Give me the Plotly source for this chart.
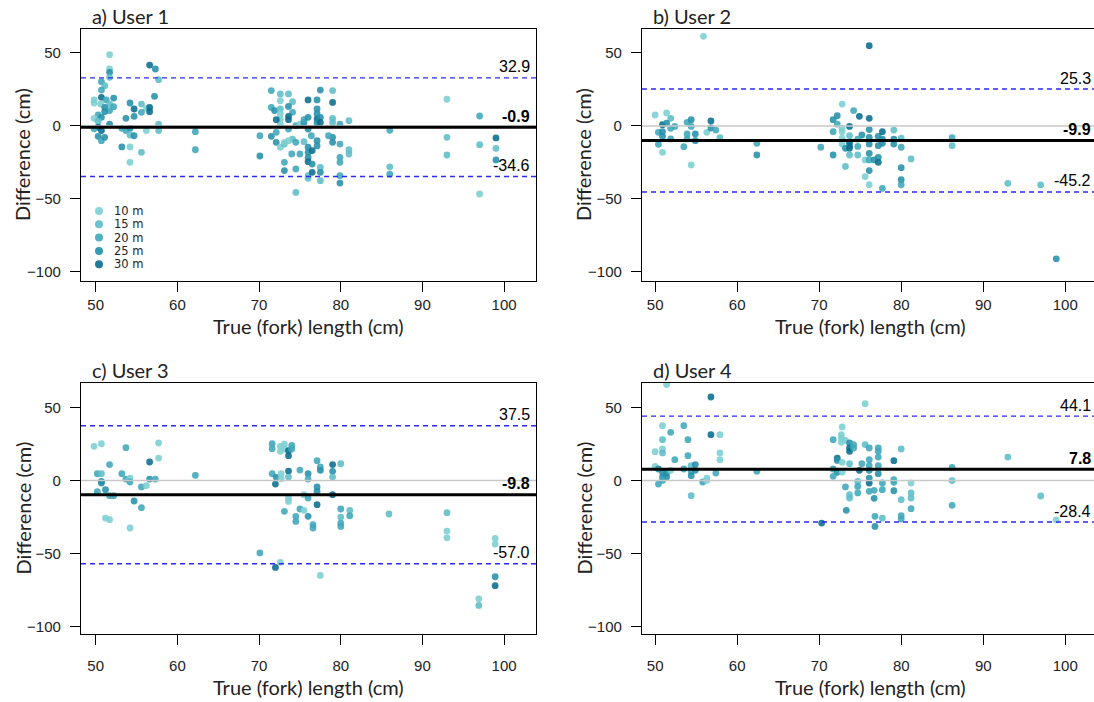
import plotly.graph_objects as go

# Bland-Altman style comparison: estimated minus true fork length, per user,
# coloured by camera distance.

DISTANCES = [10, 15, 20, 25, 30]
DIST_LABELS = ["10 m", "15 m", "20 m", "25 m", "30 m"]
DIST_COLORS = ["#7ccfd1", "#5cbdc8", "#3fa7ba", "#2490aa", "#0a6d8e"]

X_TICKS = [50, 60, 70, 80, 90, 100]
Y_TICKS = [-100, -50, 0, 50]

PANEL_TITLES = ["a) User 1", "b) User 2", "c) User 3", "d) User 4"]

# (true length cm, difference cm, distance m)
user1 = [
    (51.7, 48.8, 10), (51.7, 39.0, 10), (51.7, 36.7, 25), (51.7, 33.3, 15), (50.7, 30.3, 20), (51.1, 27.6, 15),
    (50.7, 24.6, 20), (49.8, 17.8, 10), (49.8, 15.7, 10), (50.7, 19.6, 30), (50.6, 15.0, 10), (51.3, 17.8, 20),
    (52.2, 19.1, 25), (51.7, 15.0, 15), (51.1, 12.7, 25), (52.2, 13.2, 20), (51.7, 10.5, 20), (51.1, 9.8, 25),
    (50.3, 7.5, 20), (49.8, 5.2, 10), (50.7, 5.9, 25), (50.3, 3.3, 15), (51.7, 1.3, 25), (50.3, -0.9, 30),
    (50.7, -3.2, 30), (50.3, -7.1, 25), (50.7, -10.1, 20), (51.1, -7.8, 25), (49.8, -2.0, 20),
    (54.2, 15.7, 25), (54.7, 11.6, 30), (53.7, 5.2, 25), (54.7, 6.6, 25), (53.2, -1.6, 20), (53.7, -3.2, 20),
    (54.2, -1.6, 25), (54.2, -6.2, 15), (54.7, -6.7, 25), (53.2, -14.4, 25), (54.2, -14.4, 10), (54.2, -24.9, 10),
    (55.6, -18.1, 15), (55.6, 15.0, 15), (56.2, 12.1, 10), (56.6, 12.7, 30), (56.6, 9.8, 30), (55.6, 9.3, 20),
    (56.2, -3.2, 10), (56.6, 41.7, 30), (57.3, 39.0, 25), (57.7, 31.7, 15), (57.2, 20.3, 25), (57.7, 1.3, 15),
    (57.7, -3.2, 15), (62.2, -3.9, 20), (62.2, -16.3, 20),
    (70.1, -6.7, 20), (70.1, -20.6, 25), (71.5, 24.2, 20), (71.5, 12.7, 20), (71.9, 10.5, 25), (71.5, -7.1, 25),
    (72.1, -11.2, 25), (72.6, 21.9, 15), (72.6, 17.3, 10), (72.6, 11.6, 15), (72.6, 8.2, 10), (72.6, 4.7, 10),
    (72.6, 1.3, 10), (72.1, 4.3, 30), (72.1, -4.4, 20), (72.6, -14.6, 10), (73.1, -12.4, 15), (73.1, -24.9, 20),
    (73.1, -30.6, 25), (73.6, 21.9, 15), (74.1, 16.6, 15), (73.6, 13.4, 25), (74.1, 9.3, 20), (73.6, 6.6, 30),
    (73.6, 4.3, 30), (73.6, -2.1, 20), (74.1, -9.0, 15), (73.6, -10.1, 10), (73.1, -11.2, 10), (74.5, -11.2, 20),
    (74.0, -19.2, 20), (75.0, -19.2, 20), (74.5, -29.5, 20), (74.5, -45.5, 15), (74.5, 0.2, 20), (75.0, 1.3, 10),
    (75.5, -10.8, 15), (75.5, 2.4, 25), (75.5, 4.3, 20), (76.0, 5.9, 25), (76.0, 17.8, 30), (76.0, -2.1, 25),
    (76.4, -6.7, 20), (76.0, -14.6, 25), (76.0, -18.1, 25), (76.0, -21.5, 25), (76.0, -24.5, 30), (76.0, -34.1, 15),
    (76.0, -35.9, 15), (76.5, -26.1, 25), (76.5, -31.8, 30), (77.1, 17.8, 25), (77.1, 11.6, 25), (77.1, 8.2, 25),
    (77.1, 4.7, 30), (77.1, 2.0, 25), (77.5, 24.6, 25), (77.5, 5.9, 25), (77.5, 2.4, 30), (77.1, -10.1, 25),
    (77.1, -13.7, 25), (77.5, -28.4, 15), (77.5, -31.8, 25), (77.5, -37.5, 15), (76.5, -16.9, 30), (79.0, 24.2, 15),
    (79.0, 16.1, 30), (79.0, 5.2, 15), (79.0, 2.4, 15), (79.0, -7.8, 25), (79.0, -11.2, 25), (78.5, -6.7, 20),
    (79.9, 1.3, 20), (79.9, -12.4, 20), (79.9, -21.5, 20), (79.9, -24.9, 20), (79.9, -34.1, 20), (79.9, -39.1, 25),
    (81.0, 3.6, 15), (81.0, -16.3, 15), (81.0, -19.2, 15),
    (86.0, -3.0, 20), (86.0, -28.0, 15), (86.0, -33.0, 20), (93.0, 18.3, 10), (93.0, -7.8, 15), (93.0, -19.9, 15),
    (97.0, 6.8, 20), (97.0, -12.8, 15), (97.0, -46.6, 10), (99.0, -8.2, 30), (99.0, -15.3, 15), (99.0, -23.3, 25),
]

user2 = [
    (55.9, 61.4, 10), (50.0, 7.5, 10), (51.4, 8.9, 10), (51.9, 5.2, 15), (50.9, 0.9, 30), (51.4, 2.0, 25),
    (52.4, -0.3, 20), (51.9, -1.6, 20), (50.4, -4.4, 20), (50.9, -3.9, 25), (50.9, -7.1, 25), (51.9, -8.9, 20),
    (50.4, -12.6, 20), (50.9, -18.1, 10), (53.9, 2.5, 20), (54.4, 4.3, 25), (54.4, -0.3, 20), (53.9, -5.5, 20),
    (53.9, -8.9, 20), (54.9, -5.5, 25), (54.9, -10.1, 25), (53.5, -14.2, 20), (54.4, -26.7, 10), (56.3, -4.4, 10),
    (56.8, 3.4, 30), (56.8, -1.4, 25), (57.4, -2.8, 20), (57.9, -8.0, 15), (62.4, -11.9, 20), (62.4, -19.9, 25),
    (76.1, 55.0, 30), (72.8, 15.0, 10), (74.2, 10.5, 20), (74.9, 6.6, 30), (72.2, 7.0, 25), (71.7, 4.3, 25),
    (72.2, 1.3, 20), (71.7, -3.9, 20), (72.8, -1.6, 10), (72.8, -3.9, 10), (73.7, -0.3, 30), (76.1, 5.2, 30),
    (76.1, -2.5, 25), (72.8, -8.3, 10), (72.8, -12.4, 10), (73.7, -6.7, 15), (73.7, -11.2, 30), (73.7, -13.5, 30),
    (73.2, -15.3, 25), (73.7, -15.3, 30), (73.7, -19.9, 15), (74.7, -14.0, 20), (74.7, -19.9, 15), (75.2, -6.2, 25),
    (74.7, -9.0, 20), (76.1, -7.8, 25), (76.1, -12.4, 25), (76.1, -18.8, 25), (75.6, -23.3, 10), (76.1, -23.3, 20),
    (76.7, -23.3, 25), (77.2, -21.5, 25), (77.2, -24.9, 30), (76.1, -30.6, 25), (75.6, -34.7, 10), (76.1, -40.2, 10),
    (73.2, -27.7, 15), (70.2, -14.6, 20), (71.7, -19.9, 25), (77.2, -7.1, 25), (77.7, -3.9, 30), (77.7, -9.0, 25),
    (77.7, -11.9, 25), (77.2, -13.5, 25), (77.7, -42.7, 20), (79.1, -2.8, 15), (79.1, -9.0, 25), (79.1, -12.4, 25),
    (80.0, -8.3, 15), (80.0, -14.6, 20), (80.0, -28.6, 25), (80.0, -36.8, 25), (80.0, -40.2, 20), (81.2, -22.6, 15),
    (86.2, -8.0, 20), (86.2, -13.5, 15), (93.0, -39.3, 15), (97.0, -40.4, 15), (98.9, -91.0, 25),
]

user3 = [
    (49.8, 23.4, 10), (50.7, 25.2, 10), (50.2, 4.7, 20), (50.7, 4.7, 15), (51.7, 10.9, 20), (50.7, -0.6, 25),
    (50.7, -1.7, 25), (51.2, -6.3, 25), (50.2, -7.6, 20), (51.7, -10.4, 20), (52.2, -10.4, 20), (51.2, -25.7, 10),
    (51.7, -26.8, 10), (53.7, 22.5, 20), (53.2, 4.7, 20), (53.7, 1.0, 20), (54.2, 1.7, 10), (54.2, -1.0, 20),
    (54.7, -14.0, 25), (54.2, -32.5, 10), (55.6, -18.6, 20), (55.6, -4.4, 20), (56.2, -3.5, 10), (56.6, 12.7, 30),
    (56.6, 1.0, 25), (57.3, 1.0, 20), (57.7, 25.7, 10), (57.7, 15.4, 10), (62.2, 3.6, 20),
    (70.1, -49.6, 20), (71.6, 25.2, 20), (71.6, 21.8, 20), (71.6, 4.7, 20), (72.1, 2.2, 25), (72.0, -2.4, 30),
    (72.6, 23.4, 10), (72.6, 20.0, 10), (73.1, 25.0, 10), (73.1, 21.6, 10), (72.7, 4.7, 10), (72.7, 1.3, 10),
    (73.6, 20.5, 30), (73.6, 17.0, 30), (74.0, 24.1, 20), (74.0, 21.6, 20), (73.6, 6.5, 30), (73.6, 2.4, 15),
    (73.6, -12.0, 10), (73.6, -14.3, 10), (73.1, -21.1, 20), (72.6, -56.0, 10), (72.0, -59.5, 30), (74.5, -24.5, 20),
    (74.5, -28.0, 20), (75.0, 7.2, 20), (75.0, -19.5, 20), (75.5, -9.7, 10), (75.5, -20.4, 10), (76.0, 4.7, 25),
    (76.0, 1.0, 20), (76.0, -12.0, 20), (76.0, -24.5, 25), (76.6, -30.2, 20), (76.6, -32.5, 20), (77.1, 13.6, 20),
    (77.5, 9.3, 20), (77.5, 7.0, 25), (77.1, -4.4, 25), (77.1, -7.4, 25), (77.1, -16.5, 30), (77.5, -65.0, 10),
    (79.0, 10.9, 30), (79.0, 6.3, 25), (79.0, 2.4, 15), (79.0, -9.7, 30), (80.0, 11.5, 15), (80.0, -19.5, 20),
    (80.0, -25.0, 15), (80.0, -29.1, 20), (80.0, -31.4, 20), (81.1, -20.4, 15), (81.1, -24.1, 20),
    (85.9, -22.9, 15), (93.0, -22.0, 15), (93.0, -34.6, 10), (93.0, -39.2, 10), (96.9, -81.0, 10), (96.9, -85.5, 15),
    (98.9, -39.6, 10), (98.9, -43.5, 10), (98.9, -65.9, 25), (98.9, -72.0, 30),
]

user4 = [
    (51.4, 65.7, 10), (56.8, 57.2, 30), (50.9, 37.6, 10), (53.5, 37.6, 20), (51.9, 33.0, 20), (50.9, 28.0, 15),
    (54.0, 28.0, 20), (56.8, 31.4, 30), (57.9, 31.4, 10), (50.0, 19.8, 10), (50.9, 21.6, 10), (50.9, 18.9, 15),
    (52.4, 14.3, 20), (54.0, 17.0, 20), (57.9, 18.9, 10), (57.9, 14.3, 10), (50.0, 9.7, 10), (50.4, 7.9, 25),
    (50.9, 5.6, 25), (51.4, 5.1, 25), (50.9, 2.4, 25), (51.4, 2.4, 25), (51.9, 7.0, 10), (50.9, 0.1, 20),
    (50.4, -2.4, 20), (53.5, 7.9, 20), (54.4, 10.2, 15), (54.9, 10.9, 25), (54.4, 6.3, 20), (54.9, 7.0, 25),
    (54.4, 3.3, 25), (55.8, -1.0, 20), (56.3, 1.7, 10), (56.3, 0.1, 10), (57.4, 5.1, 20), (54.4, -10.4, 15),
    (62.4, 6.3, 20),
    (72.8, 36.7, 10), (72.7, 31.4, 10), (72.7, 29.1, 10), (72.7, 26.2, 10), (73.2, 27.5, 10), (71.7, 28.0, 20),
    (73.7, 25.7, 25), (73.7, 22.3, 30), (73.7, 20.0, 30), (74.2, 24.6, 20), (74.2, 22.3, 20), (75.6, 52.6, 10),
    (75.6, 24.6, 15), (76.1, 22.3, 20), (77.2, 22.3, 20), (77.2, 20.0, 20), (77.2, 16.1, 20), (80.0, 21.6, 15),
    (72.2, 15.4, 30), (72.2, 13.8, 25), (72.8, 12.5, 10), (73.7, 11.5, 15), (75.2, 11.5, 20), (76.1, 14.3, 20),
    (76.1, 10.2, 20), (77.2, 10.2, 20), (79.1, 13.6, 30), (71.7, 7.9, 20), (72.2, 5.6, 25), (72.8, 5.8, 10),
    (71.7, 2.9, 20), (74.9, 7.0, 30), (76.1, 7.0, 25), (77.2, 4.7, 25), (76.1, 1.7, 25), (76.1, -1.7, 30),
    (74.7, -0.6, 15), (74.7, -4.0, 20), (74.7, -8.5, 20), (73.2, -4.4, 20), (73.7, -9.7, 15), (73.7, -12.0, 15),
    (73.3, -20.4, 25), (76.1, -7.4, 20), (76.7, -6.7, 20), (77.7, -1.7, 20), (77.7, -6.3, 20), (76.7, -12.2, 25),
    (76.8, -24.5, 20), (76.8, -31.4, 25), (77.7, -25.7, 15), (79.1, 0.6, 20), (79.1, -1.2, 20), (79.1, -7.0, 25),
    (80.0, -13.1, 15), (80.0, -24.1, 20), (80.0, -26.4, 20), (81.2, -1.7, 10), (81.2, -8.5, 15), (81.2, -12.0, 15),
    (81.2, -19.3, 20), (70.3, -29.1, 30),
    (86.2, 9.0, 20), (86.2, 0.0, 15), (86.2, -17.0, 20), (93.0, 16.1, 15), (97.0, -10.6, 15), (98.9, -27.0, 10),
]

# mean bias and 95% limits of agreement per user
MEAN_BIAS = [-0.9, -9.9, -9.8, 7.8]
UPPER_LOA = [32.9, 25.3, 37.5, 44.1]
LOWER_LOA = [-34.6, -45.2, -57.0, -28.4]

USERS = [user1, user2, user3, user4]

W, H = 1094, 702
TITLE_FONT = "Lato"
TITLE_SIZE = 20
NUM_FONT = "Liberation Sans"
TEXT_COL = "#222222"


def fx(p):
    return p / W


def fy(p):
    return 1 - p / H


# panel boxes in pixels: left, right, top, bottom
BOXES = [(81, 536, 29, 281), (642, 1094, 29, 281), (81, 536, 383, 634), (642, 1094, 383, 634)]
X_RANGES = [[48.2, 103.9], [48.4, 103.5], [48.2, 103.9], [48.4, 103.5]]
Y_RANGES = [[-106.2, 66.4], [-106.2, 66.4], [-105.1, 66.8], [-105.1, 66.8]]
# vertical offsets (px below box) of the tick labels and the x-axis title, per row
LABEL_STANDOFF = [0, 8]
XTITLE_OFFSET = [45, 53]

color_of = dict(zip(DISTANCES, DIST_COLORS))

fig = go.Figure()
shapes = []
annotations = []

for i, pts in enumerate(USERS):
    n = "" if i == 0 else str(i + 1)
    xa, ya = "x" + n, "y" + n
    row = i // 2
    xs = [p[0] for p in pts]
    ys = [p[1] for p in pts]
    cs = [color_of[p[2]] for p in pts]
    fig.add_trace(go.Scatter(
        x=xs, y=ys, mode="markers", xaxis=xa, yaxis=ya, showlegend=False,
        marker=dict(size=6.8, color=cs, opacity=0.88, line=dict(width=0)),
        hoverinfo="x+y",
    ))

    left, right, top, bottom = BOXES[i]
    right_side = i % 2 == 1
    fig.layout["xaxis" + n] = dict(
        domain=[fx(left), fx(right)], range=X_RANGES[i], anchor=ya,
        showline=True, mirror=True, linecolor="black", linewidth=1.3,
        ticks="outside", ticklen=10, tickwidth=1.2, tickcolor="black",
        tickvals=X_TICKS, showgrid=False, zeroline=False, ticklabelstandoff=LABEL_STANDOFF[row],
        tickfont=dict(family=NUM_FONT, size=15, color=TEXT_COL),
    )
    fig.layout["yaxis" + n] = dict(
        domain=[fy(bottom), fy(top)], range=Y_RANGES[i], anchor=xa,
        showline=True, mirror=not right_side, linecolor="black", linewidth=1.3,
        ticks="outside", ticklen=10, tickwidth=1.2, tickcolor="black",
        tickvals=Y_TICKS, showgrid=False, zeroline=False, ticklabelstandoff=6,
        tickfont=dict(family=NUM_FONT, size=15, color=TEXT_COL),
    )

    xd = xa + " domain"
    # zero reference
    shapes.append(dict(type="line", xref=xd, yref=ya, x0=0, x1=1, y0=0, y1=0,
                       line=dict(color="#c8c8c8", width=1.6)))
    # limits of agreement
    for v in (UPPER_LOA[i], LOWER_LOA[i]):
        shapes.append(dict(type="line", xref=xd, yref=ya, x0=0, x1=1, y0=v, y1=v,
                           line=dict(color="#2a2aff", width=1.4, dash="5px,4px")))
    # mean bias
    shapes.append(dict(type="line", xref=xd, yref=ya, x0=0, x1=1, y0=MEAN_BIAS[i], y1=MEAN_BIAS[i],
                       line=dict(color="black", width=3)))

    lab_x = fx(532) if not right_side else fx(1093)
    for v, bold in ((UPPER_LOA[i], False), (MEAN_BIAS[i], True), (LOWER_LOA[i], False)):
        txt = f"{v:.1f}"
        annotations.append(dict(
            xref="paper", yref=ya, x=lab_x, y=v, xanchor="right", yanchor="middle",
            yshift=11, showarrow=False,
            text=f"<b>{txt}</b>" if bold else txt,
            font=dict(family=NUM_FONT, size=16, color="black"),
        ))

    # panel title
    annotations.append(dict(
        xref="paper", yref="paper", x=fx(left + 9), y=fy(top - 13), xanchor="left", yanchor="middle",
        showarrow=False, text=PANEL_TITLES[i], font=dict(family=TITLE_FONT, size=TITLE_SIZE, color=TEXT_COL),
    ))
    # axis titles
    xc = (left + (right if not right_side else 1098)) / 2
    annotations.append(dict(
        xref="paper", yref="paper", x=fx(xc), y=fy(bottom + XTITLE_OFFSET[row]), xanchor="center",
        yanchor="middle", showarrow=False, text="True (fork) length (cm)",
        font=dict(family=TITLE_FONT, size=TITLE_SIZE, color=TEXT_COL),
    ))
    annotations.append(dict(
        xref="paper", yref="paper", x=fx(left - 59), y=fy((top + bottom) / 2), xanchor="center",
        yanchor="middle", textangle=-90, showarrow=False, text="Difference (cm)",
        font=dict(family=TITLE_FONT, size=TITLE_SIZE, color=TEXT_COL),
    ))

# distance key inside panel a
for k, (lab, col) in enumerate(zip(DIST_LABELS, DIST_COLORS)):
    cy = 211 + k * 13.3
    shapes.append(dict(type="circle", xref="paper", yref="paper", xsizemode="pixel", ysizemode="pixel",
                       xanchor=fx(99), yanchor=fy(cy), x0=-4, x1=4, y0=-4, y1=4,
                       fillcolor=col, line=dict(width=0), opacity=0.9))
    annotations.append(dict(xref="paper", yref="paper", x=fx(112), y=fy(cy), xanchor="left", yanchor="middle",
                            showarrow=False, text=lab,
                            font=dict(family="DejaVu Sans", size=11.5, color=TEXT_COL)))

fig.update_layout(
    width=W, height=H, margin=dict(l=0, r=0, t=0, b=0),
    paper_bgcolor="white", plot_bgcolor="white",
    shapes=shapes, annotations=annotations, showlegend=False,
)

fig.write_html("out.html")
